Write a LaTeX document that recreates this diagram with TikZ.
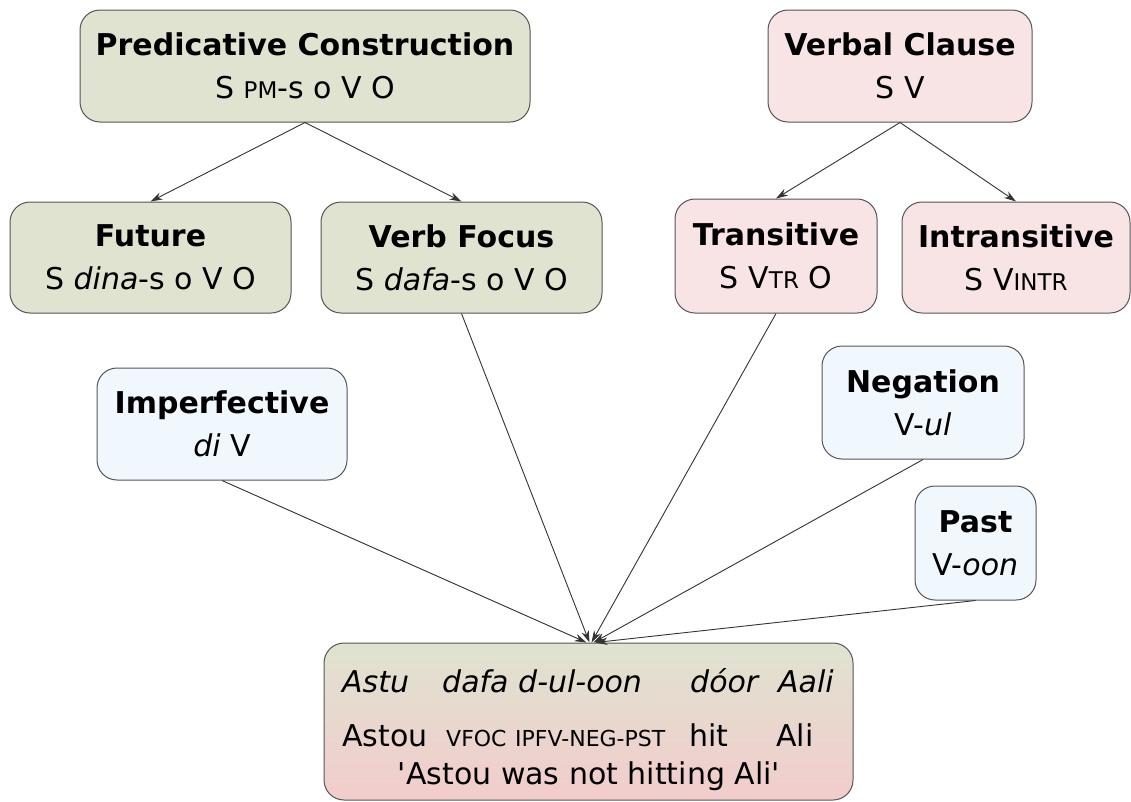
\documentclass[tikz,border=0pt]{standalone}
\usepackage{fontspec}
\setmainfont{DejaVu Sans}
\usetikzlibrary{arrows.meta,calc}
\definecolor{gfill}{RGB}{223,227,208}
\definecolor{pfill}{RGB}{248,228,228}
\definecolor{bfill}{RGB}{240,247,253}
\definecolor{edgec}{RGB}{85,85,85}
\definecolor{gbot}{RGB}{242,204,204}
\newcommand\smc[1]{{\fontsize{23}{23}\selectfont #1}}
\newcommand\smcs[1]{{\fontsize{22}{22}\selectfont #1}}
\begin{document}
\begin{tikzpicture}[x=1pt,y=-1pt,
  box/.style={draw=edgec,line width=1pt,rounded corners=20pt,inner sep=0pt,align=center,
    font=\fontsize{30}{43}\selectfont},
  gbox/.style={box,fill=gfill},
  pbox/.style={box,fill=pfill},
  bbox/.style={box,fill=bfill},
  word/.style={anchor=base west,inner sep=0pt,font=\fontsize{30}{30}\selectfont},
  iword/.style={word,font=\fontsize{30}{30}\selectfont\itshape},
  arr/.style={draw=black!80,line width=0.9pt,-{Stealth[length=12pt,width=7.5pt]}}]
\useasboundingbox (0,0) rectangle (1131,801);
\fill[white] (0,0) rectangle (1131,801);
% top level
\node[gbox,minimum width=450,minimum height=112] (pc) at (305,66)
  {\textbf{Predicative Construction}\\S \smc{PM}-s o V O};
\node[pbox,minimum width=264,minimum height=112] (vc) at (900,66)
  {\textbf{Verbal Clause}\\S V};
% second level
\node[gbox,minimum width=281,minimum height=111] (fut) at (150.5,257.5)
  {\textbf{Future}\\S \textit{dina}-s o V O};
\node[gbox,minimum width=281,minimum height=111] (vf) at (461.5,257.5)
  {\textbf{Verb Focus}\\S \textit{dafa}-s o V O};
\node[pbox,minimum width=202,minimum height=114] (tr) at (776,256)
  {\textbf{Transitive}\\S V\smc{TR} O};
\node[pbox,minimum width=228,minimum height=111] (intr) at (1016,257.5)
  {\textbf{Intransitive}\\S V\smc{INTR}};
% morphemes
\node[bbox,minimum width=250,minimum height=112] (imp) at (222,424)
  {\textbf{Imperfective}\\\textit{di} V};
\node[bbox,minimum width=202,minimum height=113] (neg) at (923,402.5)
  {\textbf{Negation}\\V-\textit{ul}};
\node[bbox,minimum width=121,minimum height=114] (past) at (975.5,543)
  {\textbf{Past}\\V-\textit{oon}};
% example
\node[draw=edgec,line width=1pt,rounded corners=20pt,top color=gfill,bottom color=gbot,
  minimum width=529,minimum height=157,inner sep=0pt] (ex) at (588.5,721.5) {};
\node[iword] (w1) at (342,692) {Astu};
\node[iword] (w2) at (442,692) {dafa};
\node[iword] (w3) at (518,692) {d-ul-oon};
\node[iword] (w4) at (690,692) {dóor};
\node[iword] (w5) at (778,692) {Aali};
\node[word] (g1) at (342,746) {Astou};
\node[word] (g2) at (446,746) {\smcs{VFOC}};
\node[word] (g3) at (515,746) {\smcs{IPFV-NEG-PST}};
\node[word] (g4) at (689,746) {hit};
\node[word] (g5) at (776,746) {Ali};
\node[word,anchor=base] (trans) at (589,784) {\textquotesingle Astou was not hitting Ali\textquotesingle};
% connectors
\draw[arr] (pc.south) -- (fut.north);
\draw[arr] (pc.south) -- (vf.north);
\draw[arr] (vc.south) -- (tr.north);
\draw[arr] (vc.south) -- (intr.north);
\draw[arr] (vf.south) -- ($(ex.north)+(1,0)$);
\draw[arr] (tr.south) -- ($(ex.north)+(3,0)$);
\draw[arr] (imp.south) -- ($(ex.north)+(-2,0)$);
\draw[arr] (neg.south) -- ($(ex.north)+(5,0)$);
\draw[arr] (past.south) -- ($(ex.north)+(7,0)$);
\end{tikzpicture}
\end{document}
